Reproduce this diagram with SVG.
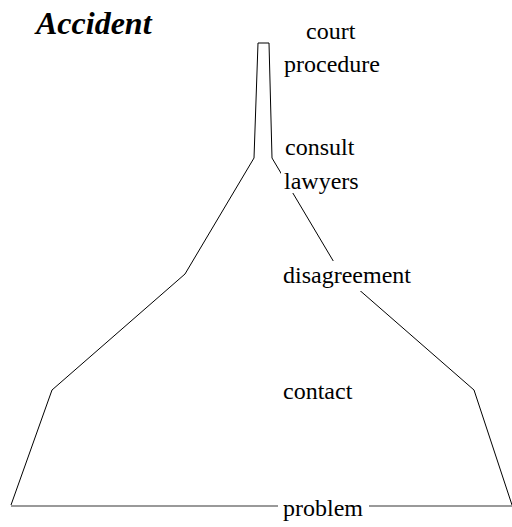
<svg xmlns="http://www.w3.org/2000/svg" width="512" height="527" viewBox="0 0 512 527">
<defs>
<style>
.bg{fill:#fff}
.edge{fill:none;stroke:#000;stroke-width:1}
.base{fill:none;stroke:#777;stroke-width:1.5}
</style>
</defs>
<rect width="512" height="527" fill="#fff"/>
<g id="connectors">
<polyline class="edge" points="11,505 52,390 185,274 254,158 258,43 269,43 272,158 341,274 474,390 512,505"/>
<line class="base" x1="11" y1="506" x2="512" y2="506"/>
</g>
<text id="title" x="36" y="34" font-family="'Liberation Serif', serif" font-size="32" font-weight="bold" font-style="italic">Accident</text>
<g id="court-procedure"><text x="306" y="39" font-family="'Liberation Serif', serif" font-size="24">court</text><text x="284" y="72" font-family="'Liberation Serif', serif" font-size="24">procedure</text></g>
<g id="consult-lawyers"><rect class="bg" x="281" y="172" width="76" height="21"/><text x="285" y="155" font-family="'Liberation Serif', serif" font-size="24">consult</text><text x="284" y="189" font-family="'Liberation Serif', serif" font-size="24">lawyers</text></g>
<g id="disagreement"><rect class="bg" x="281" y="261" width="133" height="30"/><text x="283" y="283" font-family="'Liberation Serif', serif" font-size="24">disagreement</text></g>
<g id="contact"><text x="283" y="399" font-family="'Liberation Serif', serif" font-size="24">contact</text></g>
<g id="problem"><rect class="bg" x="278" y="497" width="91" height="30"/><text x="283" y="516" font-family="'Liberation Serif', serif" font-size="24">problem</text></g>
</svg>
